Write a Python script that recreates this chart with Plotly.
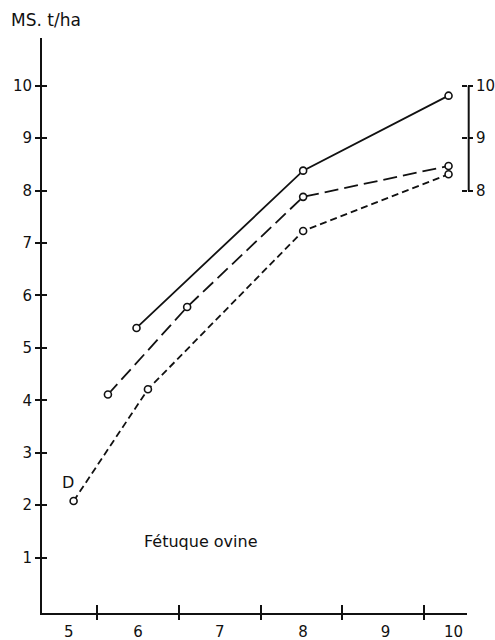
import plotly.graph_objects as go

# Data
x_solid = [5.98, 8.02, 9.80]
y_solid = [5.38, 8.38, 9.81]

x_longdash = [5.63, 6.60, 8.02, 9.80]
y_longdash = [4.11, 5.78, 7.88, 8.47]

x_shortdash = [5.21, 6.12, 8.02, 9.80]
y_shortdash = [2.08, 4.21, 7.23, 8.31]

x_tick_labels = ["5", "6", "7", "8", "9", "10"]
x_label_pos = [5.15, 6.0, 7.0, 8.02, 9.03, 9.86]
x_tick_bounds = [5.5, 6.5, 7.5, 8.5, 9.5]
y_ticks = [1, 2, 3, 4, 5, 6, 7, 8, 9, 10]
right_scale_ticks = [8, 9, 10]

XR = [4.823, 10.026]
YR = [-0.057, 10.91]
FONT = "DejaVu Sans"
INK = "#111111"

fig = go.Figure()

def add_series(xs, ys, dash):
    fig.add_trace(go.Scatter(
        x=xs, y=ys, mode="lines+markers",
        line=dict(color=INK, width=1.8, dash=dash),
        marker=dict(symbol="circle", size=7, color="white",
                    line=dict(color=INK, width=1.6)),
        showlegend=False, cliponaxis=False,
    ))

add_series(x_solid, y_solid, "solid")
add_series(x_longdash, y_longdash, "14px,6px")
add_series(x_shortdash, y_shortdash, "7px,4px")

# empty helper traces so that the overlay axes (tick labels / crossing ticks) are drawn
for xa, ya in [("x2", "y"), ("x3", "y"), ("x", "y2"), ("x", "y3"), ("x", "y4")]:
    fig.add_trace(go.Scatter(x=[], y=[], xaxis=xa, yaxis=ya,
                             mode="markers", showlegend=False, hoverinfo="skip"))

tickfont = dict(family=FONT, size=15, color=INK)
common = dict(showgrid=False, zeroline=False, automargin=False)

fig.update_layout(
    width=495, height=640,
    margin=dict(l=42, r=28, t=38, b=27),
    paper_bgcolor="white", plot_bgcolor="white",
    showlegend=False,
    xaxis=dict(range=XR, tickmode="array", tickvals=x_tick_bounds,
               showticklabels=False, ticks="outside", ticklen=5,
               tickwidth=1.6, tickcolor=INK, showline=True, linewidth=2,
               linecolor=INK, **common),
    xaxis2=dict(range=XR, overlaying="x", anchor="y", tickmode="array",
                tickvals=x_label_pos, ticktext=x_tick_labels,
                ticks="", showline=False, tickfont=tickfont,
                ticklabelstandoff=8, **common),
    xaxis3=dict(range=XR, overlaying="x", anchor="y", tickmode="array",
                tickvals=x_tick_bounds, showticklabels=False,
                ticks="inside", ticklen=8, tickwidth=1.6, tickcolor=INK,
                showline=False, **common),
    yaxis=dict(range=YR, tickmode="array", tickvals=y_ticks,
               ticks="outside", ticklen=5, tickwidth=1.6, tickcolor=INK,
               showline=True, linewidth=2, linecolor=INK,
               tickfont=tickfont, **common),
    yaxis3=dict(range=YR, overlaying="y", anchor="x", tickmode="array",
                tickvals=y_ticks, showticklabels=False, ticks="inside",
                ticklen=5, tickwidth=1.6, tickcolor=INK, showline=False,
                **common),
    yaxis2=dict(range=YR, overlaying="y", anchor="x", side="right",
                tickmode="array", tickvals=right_scale_ticks,
                ticks="outside", ticklen=5, tickwidth=1.6, tickcolor=INK,
                showline=False, tickfont=tickfont, **common),
    yaxis4=dict(range=YR, overlaying="y", anchor="x", side="right",
                tickmode="array", tickvals=right_scale_ticks,
                showticklabels=False, ticks="inside", ticklen=5,
                tickwidth=1.6, tickcolor=INK, showline=False, **common),
)

# right-hand scale bar (8 to 10)
fig.add_shape(type="line", xref="paper", yref="y",
              x0=1.004, x1=1.004, y0=min(right_scale_ticks),
              y1=max(right_scale_ticks),
              line=dict(color=INK, width=2))

fig.add_annotation(text="MS. t/ha", xref="paper", yref="paper",
                   x=-0.077, y=1.0, xanchor="left", yanchor="bottom",
                   yshift=6, showarrow=False,
                   font=dict(family=FONT, size=17, color=INK))
fig.add_annotation(text="Fétuque ovine", xref="x", yref="y",
                   x=6.77, y=1.31, showarrow=False,
                   font=dict(family=FONT, size=16, color=INK))
fig.add_annotation(text="D", xref="x", yref="y",
                   x=x_shortdash[0], y=y_shortdash[0], xshift=-6, yshift=18,
                   showarrow=False,
                   font=dict(family=FONT, size=16, color=INK))

fig.write_html("out.html")
